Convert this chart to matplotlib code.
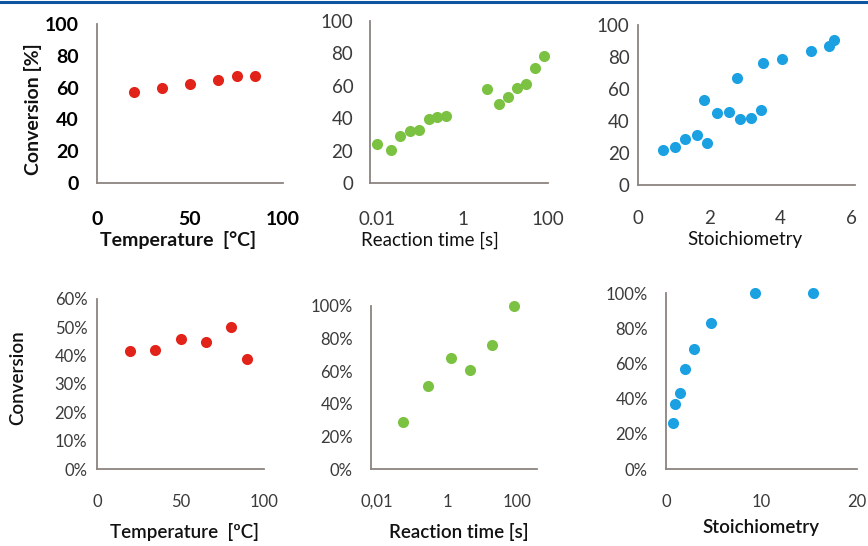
import matplotlib.pyplot as plt
from matplotlib.ticker import FixedLocator, FixedFormatter, PercentFormatter, NullLocator

W, H = 868, 546

# Top row: conversion [%] vs temperature, reaction time, stoichiometry
temp_top = [20, 35, 50, 65, 75, 85]
conv_temp_top = [57, 59.5, 62.5, 65, 67.5, 67.5]

time_top = [0.0100, 0.0212, 0.0343, 0.0585, 0.0964, 0.162, 0.258, 0.418,
            3.81, 6.98, 11.6, 19.3, 31.3, 49.9, 82]
conv_time_top = [24, 20.5, 29, 32, 33, 39.5, 41, 41.5,
                 58, 49, 53, 58.5, 61, 71, 78.5]

stoich_top = [0.71, 1.04, 1.32, 1.65, 1.93, 1.85, 2.23, 2.55, 2.77,
              2.85, 3.17, 3.45, 3.50, 4.04, 4.86, 5.37, 5.5]
conv_stoich_top = [22, 23.5, 28.5, 31, 26.5, 53, 45, 45.5, 67,
                   41.5, 42, 47, 76.5, 78.5, 84, 87, 90.5]

# Bottom row: conversion (fraction) vs the same variables
temp_bot = [20, 35, 50, 65, 80, 90]
conv_temp_bot = [0.415, 0.42, 0.46, 0.45, 0.50, 0.39]

time_bot = [0.0557, 0.28, 1.30, 4.57, 20, 83]
conv_time_bot = [0.29, 0.51, 0.68, 0.61, 0.76, 1.00]

stoich_bot = [0.75, 0.99, 1.43, 1.94, 2.9, 4.73, 9.27, 15.4]
conv_stoich_bot = [0.26, 0.37, 0.43, 0.57, 0.68, 0.83, 1.00, 1.00]

RED = '#e2231a'
GREEN = '#7cc242'
BLUE = '#1ba1e2'
SPINE = '#8c8480'
TICKC = '#3a3a3a'

plt.rcParams['font.family'] = ['Lato', 'DejaVu Sans']

fig = plt.figure(figsize=(W / 100, H / 100), dpi=100)


def px_axes(x0, x1, y0, y1):
    # pixel box (from top-left) -> figure axes
    return fig.add_axes([x0 / W, 1 - y1 / H, (x1 - x0) / W, (y1 - y0) / H])


def style(ax, xpad, ypad, size, bold=False, color=TICKC):
    for s in ['top', 'right']:
        ax.spines[s].set_visible(False)
    for s in ['left', 'bottom']:
        ax.spines[s].set_color(SPINE)
        ax.spines[s].set_linewidth(1.3)
    ax.tick_params(length=0, labelsize=size, labelcolor=color)
    ax.tick_params(axis='x', pad=xpad)
    ax.tick_params(axis='y', pad=ypad)
    if bold:
        for lab in ax.get_xticklabels() + ax.get_yticklabels():
            lab.set_fontweight('bold')
    ax.patch.set_alpha(0)


MS = 8

# top-left
ax = px_axes(97, 283, 24, 183)
ax.plot(temp_top, conv_temp_top, 'o', color=RED, ms=MS, mec='none')
ax.set_xlim(0, 100)
ax.set_ylim(0, 100)
ax.set_xticks([0, 50, 100])
ax.set_yticks(range(0, 101, 20))
style(ax, 20, 13, 14, bold=True, color='black')

# top-middle
ax = px_axes(370, 548, 21, 183)
ax.plot(time_top, conv_time_top, 'o', color=GREEN, ms=MS, mec='none')
ax.set_xscale('log')
ax.set_xlim(0.0069, 100)
ax.set_ylim(0, 100)
ax.xaxis.set_major_locator(FixedLocator([0.01, 1, 100]))
ax.xaxis.set_major_formatter(FixedFormatter(['0.01', '1', '100']))
ax.xaxis.set_minor_locator(NullLocator())
ax.set_yticks(range(0, 101, 20))
style(ax, 20, 12, 13.5)

# top-right
ax = px_axes(638, 855, 25, 185)
ax.plot(stoich_top, conv_stoich_top, 'o', color=BLUE, ms=MS, mec='none')
ax.set_xlim(0, 6.09)
ax.set_ylim(0, 100)
ax.set_xticks([0, 2, 4, 6])
ax.set_yticks(range(0, 101, 20))
style(ax, 18, 6, 13.5)

# bottom-left
ax = px_axes(97, 264, 299, 469)
ax.plot(temp_bot, conv_temp_bot, 'o', color=RED, ms=MS, mec='none')
ax.set_xlim(0, 100)
ax.set_ylim(0, 0.6)
ax.set_xticks([0, 50, 100])
ax.set_yticks([i / 10 for i in range(7)])
ax.yaxis.set_major_formatter(PercentFormatter(xmax=1, decimals=0))
style(ax, 18, 7, 12)

# bottom-middle
ax = px_axes(371, 537, 306, 469)
ax.plot(time_bot, conv_time_bot, 'o', color=GREEN, ms=MS, mec='none')
ax.set_xscale('log')
ax.set_xlim(0.0066, 380)
ax.set_ylim(0, 1.0)
ax.xaxis.set_major_locator(FixedLocator([0.01, 1, 100]))
ax.xaxis.set_major_formatter(FixedFormatter(['0,01', '1', '100']))
ax.xaxis.set_minor_locator(NullLocator())
ax.set_yticks([i / 5 for i in range(6)])
ax.yaxis.set_major_formatter(PercentFormatter(xmax=1, decimals=0))
style(ax, 18, 13, 12)

# bottom-right
ax = px_axes(666, 857, 293, 469)
ax.plot(stoich_bot, conv_stoich_bot, 'o', color=BLUE, ms=MS, mec='none')
ax.set_xlim(0, 19.5)
ax.set_ylim(0, 1.0)
ax.set_xticks([0, 10, 20])
ax.set_yticks([i / 5 for i in range(6)])
ax.yaxis.set_major_formatter(PercentFormatter(xmax=1, decimals=0))
style(ax, 18, 13, 12)
for a in fig.axes:
    for ln in a.lines:
        ln.set_clip_on(False)


def ptext(x, y, s, size, weight='normal', rot=0):
    fig.text(x / W, 1 - y / H, s, ha='center', va='center', fontsize=size,
             fontweight=weight, rotation=rot, color='#111111')


ptext(33, 109, 'Conversion [%]', 14, weight='bold', rot=90)
ptext(178, 240, 'Temperature  [°C]', 14, weight='bold')
ptext(430, 240, 'Reaction time [s]', 13.5)
ptext(745, 240, 'Stoichiometry', 13.5)

ptext(18, 378, 'Conversion', 13.5, weight='semibold', rot=90)
ptext(184, 532, 'Temperature  [ºC]', 13.5, weight='semibold')
ptext(459, 532, 'Reaction time [s]', 13.5, weight='semibold')
ptext(761, 527, 'Stoichiometry', 13.5, weight='semibold')

# blue rule across the top
fig.add_artist(plt.Line2D([0, 1], [1 - 1.5 / H, 1 - 1.5 / H], color='#0d55a0', lw=2.2,
                          transform=fig.transFigure))

fig.savefig('out.png', dpi=100)
